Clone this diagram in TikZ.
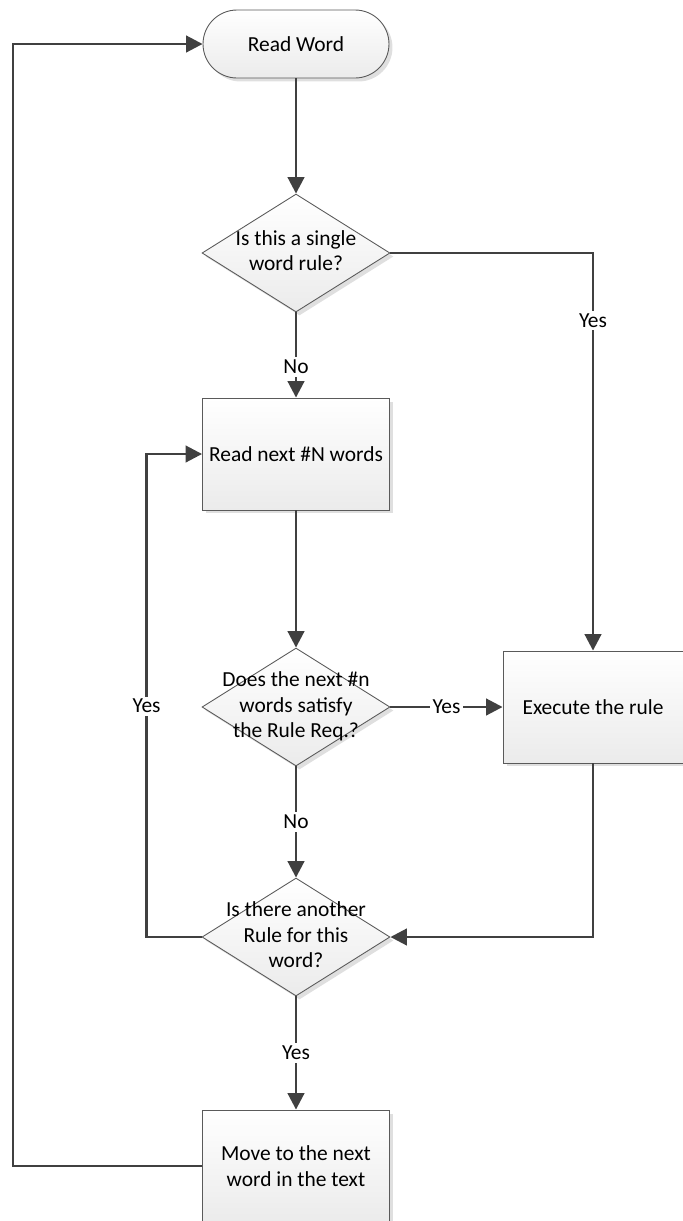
\documentclass[tikz,border=0pt]{standalone}
\usepackage{fontspec}
\setmainfont{Carlito}
\usetikzlibrary{arrows.meta,positioning,shapes.geometric,shadows}
\definecolor{linegray}{HTML}{404040}
\definecolor{edgegray}{HTML}{5A5A5A}
\definecolor{shade}{HTML}{EBEBEB}
\newcommand{\dtxt}[1]{\makebox[0pt]{\begin{tabular}{@{}c@{}}#1\end{tabular}}}

\begin{document}
\begin{tikzpicture}[x=0.02cm,y=-0.02cm,
  font=\fontsize{12.2}{14.4}\selectfont,
  base/.style={draw=edgegray,line width=0.5pt,top color=white,bottom color=shade,
    drop shadow={shadow xshift=0.07cm,shadow yshift=-0.07cm,fill=gray!25,opacity=1}},
  terminal/.style={base,rectangle,rounded corners=0.68cm,minimum width=3.72cm,minimum height=1.36cm},
  process/.style={base,rectangle,align=center,minimum width=3.74cm,minimum height=2.24cm},
  decision/.style={base,diamond,minimum width=3.76cm,minimum height=2.36cm},
  flow/.style={draw=linegray,line width=1.6pt,-{Triangle[length=0.33cm,width=0.33cm]}},
  lbl/.style={fill=white,inner sep=1.5pt}]
\useasboundingbox (0,0) rectangle (683,1221);

% shapes
\node[terminal] (read) at (296,44) {Read Word};
\node[decision] (single) at (296,253) {\dtxt{Is this a single\\word rule?}};
\node[process] (readnext) at (296,454) {Read next \#N words};
\node[decision] (satisfy) at (296,707) {\dtxt{Does the next \#n\\words satisfy\\the Rule Req.?}};
\node[process,minimum width=3.6cm] (exec) at (593,707) {Execute the rule};
\node[decision] (another) at (296,937) {\dtxt{Is there another\\Rule for this\\word?}};
\node[process] (move) at (296,1166) {Move to the next\\word in the text};

% connectors
\draw[flow] (read) -- (single);
\draw[flow] (single.east) -| node[lbl,pos=0.585] {Yes} (exec.north);
\draw[flow] (single) -- node[lbl,pos=0.64] {No} (readnext);
\draw[flow] (readnext) -- (satisfy);
\draw[flow] (satisfy) -- node[lbl] {Yes} (exec);
\draw[flow] (satisfy) -- node[lbl] {No} (another);
\draw[flow] (exec.south) |- (another.east);
\draw[flow] (another.west) -- ++(-55,0) |- node[lbl,pos=0.239] {Yes} (readnext.west);
\draw[flow] (another) -- node[lbl] {Yes} (move);
\draw[flow] (move.west) -- ++(-189,0) |- (read.west);
\end{tikzpicture}
\end{document}
